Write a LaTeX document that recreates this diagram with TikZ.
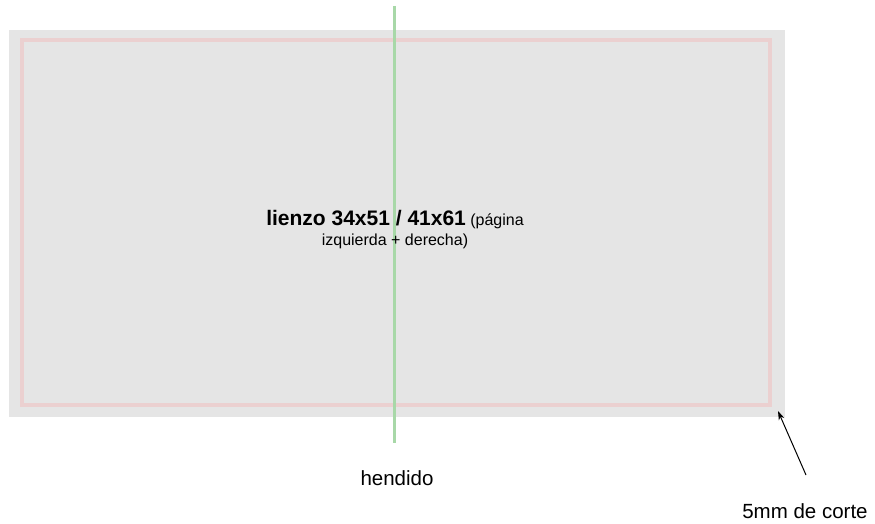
\documentclass[tikz,border=0pt]{standalone}
\usepackage{fontspec}
\setmainfont{Liberation Sans}
\usetikzlibrary{arrows.meta}
\definecolor{canvasgray}{HTML}{E5E5E5}
\definecolor{bleedred}{HTML}{EBD0D0}
\definecolor{foldgreen}{HTML}{A8D8A8}
\tikzset{
  canvas/.style={fill=canvasgray, draw=none},
  bleed/.style={draw=bleedred, line width=3.5pt},
  fold/.style={draw=foldgreen, line width=3pt},
  lbl/.style={inner sep=0pt, anchor=base, font=\fontsize{16}{19}\selectfont},
  pointer/.style={draw=black, line width=1pt, -{Stealth[length=9pt,width=6pt]}}
}
\begin{document}
\begin{tikzpicture}[x=1pt,y=-1pt]
\useasboundingbox (0,0) rectangle (875,524);
\fill[canvas] (9,30) rectangle (785,417);
\coordinate (corner) at (778,411);
\draw[bleed] (22,40) rectangle (770,405);
\coordinate (foldtop) at (394,6);
\coordinate (foldbot) at (394,443);
\draw[fold] (foldtop) -- (foldbot);
\node[lbl] (title1) at (395,225) {{\bfseries\fontsize{21}{25}\selectfont lienzo 34x51 / 41x61} (página};
\node[lbl] (title2) at (395,245) {izquierda + derecha)};
\node[lbl, font=\fontsize{20.5}{24}\selectfont] (hend) at (397,485) {hendido};
\node[lbl, font=\fontsize{20.5}{24}\selectfont] (corte) at (805,518) {5mm de corte};
\coordinate (arrstart) at (806,475);
\draw[pointer] (arrstart) -- (corner);
\end{tikzpicture}
\end{document}
